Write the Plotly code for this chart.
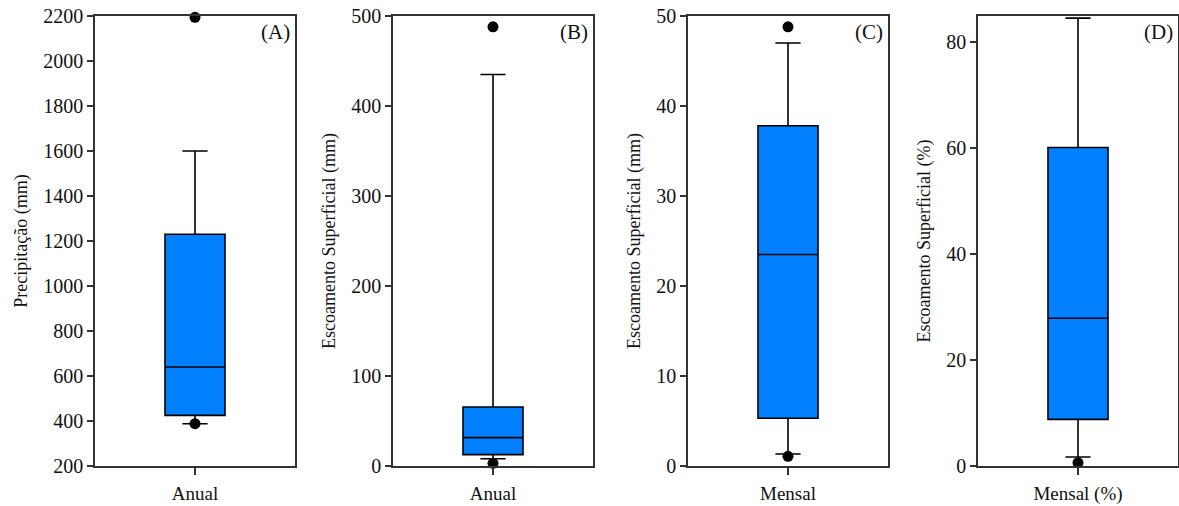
import plotly.graph_objects as go
from plotly.subplots import make_subplots

# ---- data ----
panels = ["(A)", "(B)", "(C)", "(D)"]
categories = ["Anual", "Anual", "Mensal", "Mensal (%)"]
y_titles = ["Precipitação (mm)", "Escoamento Superficial (mm)",
            "Escoamento Superficial (mm)", "Escoamento Superficial (%)"]
q1_vals = [425, 12.6, 5.3, 8.8]
median_vals = [640, 31.5, 23.5, 27.9]
q3_vals = [1230, 65.5, 37.8, 60.15]
lower_whisker = [388, 8.1, 1.33, 1.7]
upper_whisker = [1600, 435, 47.0, 84.6]
outliers = [[2194, 388], [488, 3], [48.8, 1.07], [0.63]]
y_ranges = [[200, 2200], [0, 500], [0, 50], [0, 85]]
y_dticks = [200, 100, 10, 20]

W, H = 1179, 506
plot_left = [95, 393, 688, 978]
plot_width = 200

fig = make_subplots(rows=1, cols=4)

font_family = "Liberation Serif"
axis_color = "#333333"

for i in range(4):
    fig.add_trace(go.Box(
        x=[categories[i]],
        q1=[q1_vals[i]], median=[median_vals[i]], q3=[q3_vals[i]],
        lowerfence=[lower_whisker[i]], upperfence=[upper_whisker[i]],
        fillcolor="rgb(0,128,255)",
        line=dict(color="black", width=1.6),
        width=0.3, whiskerwidth=0.42,
        boxpoints=False, showlegend=False, hoverinfo="skip",
    ), row=1, col=i + 1)
    fig.add_trace(go.Scatter(
        x=[categories[i]] * len(outliers[i]), y=outliers[i],
        mode="markers", marker=dict(color="black", size=11),
        cliponaxis=False, showlegend=False, hoverinfo="skip",
    ), row=1, col=i + 1)

for i in range(4):
    n = "" if i == 0 else str(i + 1)
    d0 = plot_left[i] / W
    d1 = (plot_left[i] + plot_width) / W
    fig.layout["xaxis" + n].update(
        domain=[d0, d1], range=[-0.5, 0.5], type="category",
        showline=True, mirror=True, linecolor=axis_color, linewidth=1.5,
        ticks="outside", ticklen=7, tickcolor=axis_color, tickwidth=1.5,
        showgrid=False, zeroline=False, ticklabelstandoff=2, automargin=False,
        tickfont=dict(family=font_family, size=19, color="#111111"),
    )
    fig.layout["yaxis" + n].update(
        range=y_ranges[i], dtick=y_dticks[i], tick0=0,
        showline=True, mirror=True, linecolor=axis_color, linewidth=1.5,
        ticks="outside", ticklen=6, tickcolor=axis_color, tickwidth=1.5,
        showgrid=False, zeroline=False, automargin=False,
        tickfont=dict(family=font_family, size=20, color="#111111"),
        title=dict(text=y_titles[i], standoff=11,
                   font=dict(family=font_family, size=18, color="#111111")),
    )
    fig.add_annotation(
        text=panels[i], xref=f"x{n} domain", yref=f"y{n} domain",
        x=0.985, y=0.995, xanchor="right", yanchor="top", showarrow=False,
        font=dict(family=font_family, size=21, color="#111111"),
    )

fig.update_layout(
    width=W, height=H,
    margin=dict(l=0, r=0, t=16, b=40),
    paper_bgcolor="white", plot_bgcolor="white",
    showlegend=False,
    font=dict(family=font_family),
)

fig.write_html(
    "out.html",
    config={"displayModeBar": False},
    post_script="document.body.style.margin='0';document.body.style.padding='0';",
)
